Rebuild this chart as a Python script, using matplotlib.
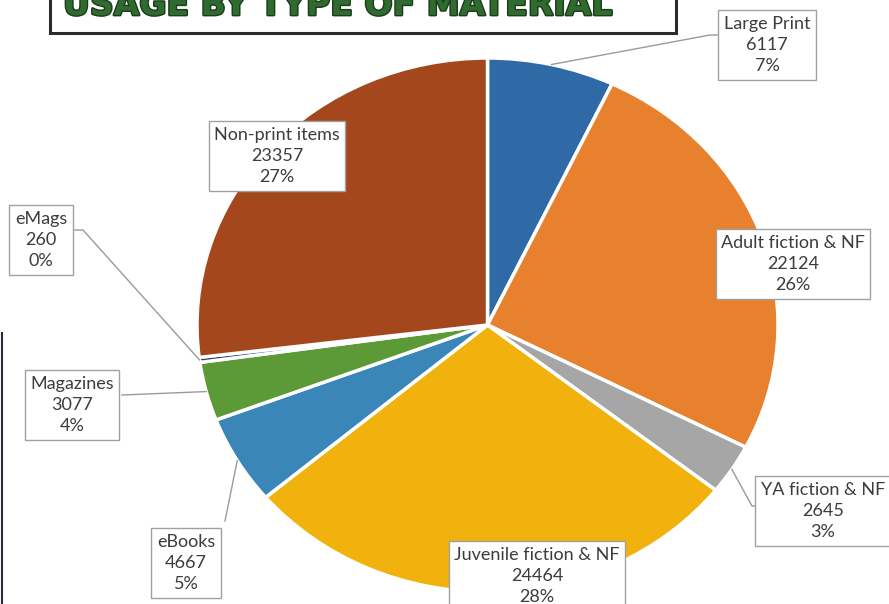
import numpy as np
import matplotlib
matplotlib.use("Agg")
import matplotlib.pyplot as plt
import matplotlib.patheffects as pe
from matplotlib.patches import Rectangle

# ── data ────────────────────────────────────────────────────────────────
categories = ["Large Print", "Adult fiction & NF", "YA fiction & NF",
              "Juvenile fiction & NF", "eBooks", "Magazines", "eMags",
              "Non-print items"]
usage = [6117, 22124, 2645, 24464, 4667, 3077, 260, 23357]
colors = ["#2f69a6", "#e8812d", "#a6a6a6", "#f1b20e",
          "#3b86b8", "#5c9a37", "#233f6e", "#a4471d"]

# label centres (pixel coords, y down) and leader-line bends
label_pos = [(767, 45), (793, 264), (823, 511), (537, 576),
             (186, 563), (72, 405), (41, 240), (277, 156)]
leader_bends = {0: [(710, 35), (717, 35)],
                2: [(752, 506), (758, 506)],
                4: [(225, 521)],
                5: [(122, 395)],
                6: [(83, 230), (75, 230)]}

W, H = 889, 604
fig = plt.figure(figsize=(W / 100, H / 100), dpi=100)
fig.patch.set_facecolor("white")

# pie (slightly squashed like the scan)
left, right, top, bottom = 197, 778, 58, 592
ax_pie = fig.add_axes([left / W, 1 - bottom / H, (right - left) / W, (bottom - top) / H])
wedges, _ = ax_pie.pie(usage, colors=colors, startangle=90, counterclock=False,
                       radius=1,
                       wedgeprops=dict(edgecolor="white", linewidth=2.5))
ax_pie.set_aspect("auto")
ax_pie.set_xlim(-1, 1)
ax_pie.set_ylim(-1, 1)
ax_pie.axis("off")

# overlay in pixel coordinates for labels
ax = fig.add_axes([0, 0, 1, 1])
ax.set_xlim(0, W)
ax.set_ylim(H, 0)
ax.axis("off")
ax.patch.set_alpha(0)

to_px = ax_pie.transData + ax.transData.inverted()
total = sum(usage)

for i, (name, val) in enumerate(zip(categories, usage)):
    pct = round(100 * val / total)
    x, y = label_pos[i]
    ax.text(x, y, f"{name}\n{val}\n{pct}%", ha="center", va="center",
            fontsize=13, family=["Lato", "DejaVu Sans"], color="#3c3c3c",
            linespacing=1.42, zorder=5,
            bbox=dict(boxstyle="square,pad=0.3", facecolor="white",
                      edgecolor="#a0a0a0", linewidth=1.0))
    if i in leader_bends:
        w = wedges[i]
        mid = np.deg2rad((w.theta1 + w.theta2) / 2)
        ex, ey = to_px.transform((np.cos(mid), np.sin(mid)))
        pts = [(ex, ey)] + leader_bends[i]
        ax.plot([p[0] for p in pts], [p[1] for p in pts],
                color="#9a9a9a", lw=1.0, zorder=4)

# title box, cut off at the top like the scan
ax.add_patch(Rectangle((50, -20), 626, 53, facecolor="white",
                       edgecolor="#2b2b2b", linewidth=2.2, zorder=6))
title = ax.text(63, 15, "USAGE BY TYPE OF MATERIAL", ha="left", va="baseline",
                fontsize=30, fontweight="heavy", family="DejaVu Sans",
                color="#2f6a2f", zorder=7,
                path_effects=[pe.withStroke(linewidth=2, foreground="#1c3a1c")])
fig.canvas.draw()
bb = title.get_window_extent()
title.set_fontsize(30 * 550 / bb.width)

# scanner edge on the left
ax.plot([1.5, 1.5], [333, H], color="#2a2a3a", lw=1.5, zorder=3)

fig.savefig("out.png", dpi=100)
